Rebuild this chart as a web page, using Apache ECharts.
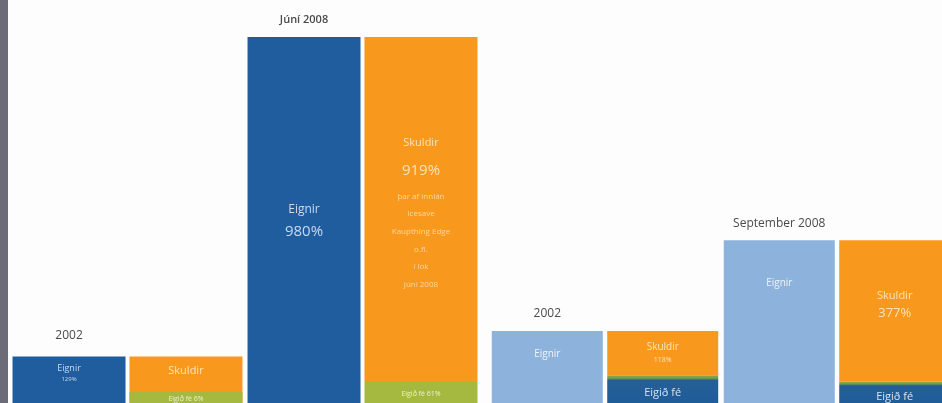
<!DOCTYPE html>
<html>
<head>
<meta charset="utf-8">
<script src="https://cdn.jsdelivr.net/npm/echarts@6/dist/echarts.min.js"></script>
<style>
  html, body { margin: 0; padding: 0; background: #fdfdfd; }
  #chart { width: 942px; height: 403px; }
</style>
</head>
<body>
<div id="chart"></div>
<script>
// Efnahagsreikningur bankanna sem hlutfall af VLF (%)
const leftCategories = ['2002', 'Júní 2008'];
const leftEignir = [129, 980];
const leftSkuldir = [123, 919];
const leftEigidFe = [6, 61];

const rightCategories = ['2002', 'September 2008'];
const rightEignir = [197, 439];
const rightSkuldir = [118, 377];
const rightEigidFe = [79, 62];

const skuldirNotes = ['þar af innlán', 'Icesave', 'Kaupthing Edge', 'o.fl.', 'í lok', 'júní 2008'];

const FONT = '"Open Sans", "Noto Sans", sans-serif';
const C = {
  blue: '#1f5d9e',
  orange: '#f8991d',
  green: '#a5b840',
  lightBlue: '#8db2dc',
  darkBlue: '#1e5c99',
  title: '#4a4a4a'
};

const chart = echarts.init(document.getElementById('chart'), null, { renderer: 'canvas' });

const titleMarks = (cats, vals, dists, bold) => ({
  symbol: 'circle',
  symbolSize: 0,
  silent: true,
  label: {
    show: true,
    position: 'top',
    formatter: '{b}',
    color: C.title,
    fontFamily: FONT,
    fontSize: 12
  },
  data: cats.map((c, i) => ({
    name: c,
    coord: [c, vals[i]],
    label: {
      distance: dists[i],
      fontWeight: bold[i] ? 600 : 'normal',
      fontSize: bold[i] ? 11 : 12
    }
  }))
});

const option = {
  animation: false,
  backgroundColor: '#fdfdfd',
  grid: [
    { left: 10, width: 470, top: 29.5, height: 375.5, outerBoundsMode: 'none' },
    { left: 489, width: 464, top: 29.5, height: 375.5, outerBoundsMode: 'none' }
  ],
  xAxis: [
    { type: 'category', gridIndex: 0, data: leftCategories, show: false },
    { type: 'category', gridIndex: 1, data: rightCategories, show: false }
  ],
  yAxis: [
    { type: 'value', gridIndex: 0, min: 0, max: 1000, show: false },
    { type: 'value', gridIndex: 1, min: 0, max: 1000, show: false }
  ],
  graphic: [
    { type: 'rect', shape: { x: 0, y: 0, width: 8, height: 403 }, style: { fill: '#6c6b78' } }
  ],
  series: [
    // ---------- vinstri mynd ----------
    {
      name: 'Eignir', type: 'bar', xAxisIndex: 0, yAxisIndex: 0,
      barWidth: 113, barGap: '3.5%',
      itemStyle: { color: C.blue },
      label: { show: true, fontFamily: FONT, color: '#c9d9ee', align: 'center' },
      data: [
        {
          value: leftEignir[0],
          label: {
            position: 'insideTop', distance: 6,
            formatter: p => `{a|Eignir}\n{b|${p.value}%}`,
            rich: { a: { fontSize: 9, lineHeight: 12, color: '#c9d9ee', fontFamily: FONT }, b: { fontSize: 6, lineHeight: 10, color: '#c9d9ee', fontFamily: FONT } }
          }
        },
        {
          value: leftEignir[1],
          label: {
            position: 'inside',
            formatter: p => `{a|Eignir}\n{b|${p.value}%}`,
            rich: { a: { fontSize: 12, lineHeight: 22, color: '#c9d9ee', fontFamily: FONT }, b: { fontSize: 15, lineHeight: 22, color: '#c9d9ee', fontFamily: FONT } }
          }
        }
      ],
      markPoint: titleMarks(leftCategories, leftEignir, [15, 12], [false, true])
    },
    {
      name: 'Eigið fé', type: 'bar', xAxisIndex: 0, yAxisIndex: 0, stack: 'L',
      barWidth: 113, barGap: '3.5%', barMinHeight: 13, z: 3,
      itemStyle: { color: C.green },
      label: {
        show: true, position: 'inside', fontFamily: FONT, fontSize: 7, color: '#eef2cf',
        formatter: p => `Eigið fé ${p.value}%`
      },
      data: leftEigidFe
    },
    {
      name: 'Skuldir', type: 'bar', xAxisIndex: 0, yAxisIndex: 0, stack: 'L',
      barWidth: 113, barGap: '3.5%', z: 2,
      itemStyle: { color: C.orange },
      label: { show: true, fontFamily: FONT, color: '#fde2b5', align: 'center' },
      data: [
        {
          value: leftSkuldir[0],
          label: { position: 'insideTop', distance: 9, fontSize: 11, formatter: 'Skuldir' }
        },
        {
          value: leftSkuldir[1],
          label: {
            position: 'inside', offset: [0, 3],
            formatter: p => [`{a|Skuldir}`, `{b|${p.value}%}`].concat(skuldirNotes.map(t => `{c|${t}}`)).join('\n'),
            rich: {
              a: { fontSize: 11, lineHeight: 22, color: '#fde2b5', fontFamily: FONT },
              b: { fontSize: 15, lineHeight: 34, color: '#fde2b5', fontFamily: FONT },
              c: { fontSize: 8, lineHeight: 17.6, color: '#fcd79c', fontFamily: FONT }
            }
          }
        }
      ]
    },
    // ---------- hægri mynd ----------
    {
      name: 'Eignir', type: 'bar', xAxisIndex: 1, yAxisIndex: 1,
      barWidth: 111, barGap: '4%',
      itemStyle: { color: C.lightBlue },
      label: { show: true, fontFamily: FONT, color: '#eef4fb', formatter: 'Eignir' },
      data: [
        { value: rightEignir[0], label: { position: 'insideTop', distance: 18, fontSize: 10 } },
        { value: rightEignir[1], label: { position: 'insideTop', distance: 38, fontSize: 10 } }
      ],
      markPoint: titleMarks(rightCategories, rightEignir, [11, 11], [false, false])
    },
    {
      name: 'Eigið fé', type: 'bar', xAxisIndex: 1, yAxisIndex: 1, stack: 'R',
      barWidth: 111, barGap: '4%',
      itemStyle: {
        color: new echarts.graphic.LinearGradient(0, 0, 0, 1, [
          { offset: 0, color: '#93ad3c' },
          { offset: 0.1, color: '#6f9a4c' },
          { offset: 0.17, color: '#255f97' },
          { offset: 1, color: C.darkBlue }
        ])
      },
      label: {
        show: true, position: 'inside', offset: [0, 3], fontFamily: FONT, fontSize: 11,
        color: '#d5e2f2', formatter: 'Eigið fé'
      },
      data: rightEigidFe
    },
    {
      name: 'Skuldir', type: 'bar', xAxisIndex: 1, yAxisIndex: 1, stack: 'R',
      barWidth: 111, barGap: '4%',
      itemStyle: { color: C.orange },
      label: { show: true, fontFamily: FONT, position: 'inside', color: '#fde2b5', align: 'center' },
      data: [
        {
          value: rightSkuldir[0],
          label: {
            formatter: p => `{a|Skuldir}\n{b|${p.value}%}`,
            rich: { a: { fontSize: 10, lineHeight: 13, color: '#fde2b5', fontFamily: FONT }, b: { fontSize: 7, lineHeight: 12, color: '#fde2b5', fontFamily: FONT } }
          }
        },
        {
          value: rightSkuldir[1],
          label: {
            offset: [0, -6],
            formatter: p => `{a|Skuldir}\n{b|${p.value}%}`,
            rich: { a: { fontSize: 11, lineHeight: 17, color: '#fde2b5', fontFamily: FONT }, b: { fontSize: 13, lineHeight: 18, color: '#fde2b5', fontFamily: FONT } }
          }
        }
      ]
    }
  ]
};

chart.setOption(option);
</script>
</body>
</html>
